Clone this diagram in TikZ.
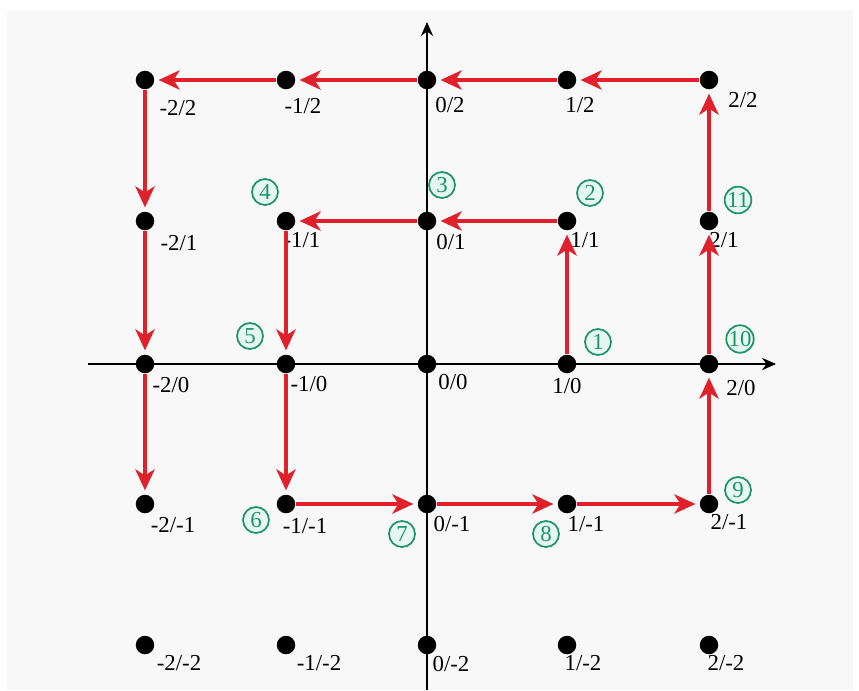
\documentclass[tikz,border=0pt]{standalone}
\usepackage{fontspec}
\setmainfont{Liberation Serif}
\usetikzlibrary{arrows.meta}
\definecolor{arrred}{HTML}{E0202A}
\definecolor{numgreen}{HTML}{1E9467}
\definecolor{numfill}{HTML}{E6F7F1}
\definecolor{bgcol}{HTML}{F8F8F8}
\tikzset{
  dot/.style={circle,fill=black,inner sep=0pt,minimum size=0.37cm},
  lab/.style={font=\fontsize{13}{15}\selectfont,inner sep=0pt,anchor=center},
  num/.style={circle,draw=numgreen,fill=numfill,text=numgreen,line width=1pt,
    inner sep=0pt,minimum size=0.52cm,font=\fontsize{13}{14}\selectfont},
  rarr/.style={draw=arrred,line width=2pt,-{Stealth[length=12pt,width=11pt,inset=3.5pt]},
    shorten >=0.08cm},
  axis/.style={draw=black,line width=0.8pt,-{Stealth[length=8pt,width=7pt]}}
}
\begin{document}
\begin{tikzpicture}[x=0.02cm,y=-0.02cm]
\useasboundingbox (0,0) rectangle (859,690);
\fill[bgcol] (7,10) rectangle (853,690);
% axes
\coordinate (xl) at (88,364);
\coordinate (xr) at (776,364);
\coordinate (yb) at (427,690);
\coordinate (yt) at (427,22);
\draw[axis] (xl) -- (xr);
\draw[axis] (yb) -- (yt);
% dots: a=x-2 ... e=x2 ; second index row y
\node[dot] (a2) at (145,80) {};
\node[dot] (b2) at (286,80) {};
\node[dot] (c2) at (427,80) {};
\node[dot] (d2) at (567,80) {};
\node[dot] (e2) at (709,80) {};
\node[dot] (a1) at (145,221) {};
\node[dot] (b1) at (286,221) {};
\node[dot] (c1) at (427,221) {};
\node[dot] (d1) at (567,221) {};
\node[dot] (e1) at (709,221) {};
\node[dot] (a0) at (145,364) {};
\node[dot] (b0) at (286,364) {};
\node[dot] (c0) at (427,364) {};
\node[dot] (d0) at (567,364) {};
\node[dot] (e0) at (709,364) {};
\node[dot] (am) at (145,504) {};
\node[dot] (bm) at (286,504) {};
\node[dot] (cm) at (427,504) {};
\node[dot] (dm) at (567,504) {};
\node[dot] (em) at (709,504) {};
\node[dot] (an) at (145,645) {};
\node[dot] (bn) at (286,645) {};
\node[dot] (cn) at (427,645) {};
\node[dot] (dn) at (567,645) {};
\node[dot] (en) at (709,645) {};
% labels
\node[lab] (la2) at (178,108) {-2/2};
\node[lab] (lb2) at (303,106) {-1/2};
\node[lab] (lc2) at (450,105) {0/2};
\node[lab] (ld2) at (580,105) {1/2};
\node[lab] (le2) at (743,100) {2/2};
\node[lab] (la1) at (179,243) {-2/1};
\node[lab] (lb1) at (302,240) {-1/1};
\node[lab] (lc1) at (451,242) {0/1};
\node[lab] (ld1) at (585,240) {1/1};
\node[lab] (le1) at (724,240) {2/1};
\node[lab] (la0) at (171,385) {-2/0};
\node[lab] (lb0) at (309,384) {-1/0};
\node[lab] (lc0) at (453,382) {0/0};
\node[lab] (ld0) at (567,386) {1/0};
\node[lab] (le0) at (741,388) {2/0};
\node[lab] (lam) at (173,525) {-2/-1};
\node[lab] (lbm) at (305,526) {-1/-1};
\node[lab] (lcm) at (452,524) {0/-1};
\node[lab] (ldm) at (586,524) {1/-1};
\node[lab] (lem) at (729,522) {2/-1};
\node[lab] (lan) at (179,663) {-2/-2};
\node[lab] (lbn) at (319,663) {-1/-2};
\node[lab] (lcn) at (451,664) {0/-2};
\node[lab] (ldn) at (583,663) {1/-2};
\node[lab] (len) at (726,663) {2/-2};
% circled numbers
\node[num] (n1) at (598,342) {1};
\node[num] (n2) at (590,193) {2};
\node[num] (n3) at (442,185) {3};
\node[num] (n4) at (265,192) {4};
\node[num] (n5) at (250,336) {5};
\node[num] (n6) at (256,520) {6};
\node[num] (n7) at (402,534) {7};
\node[num] (n8) at (546,534) {8};
\node[num] (n9) at (738,490) {9};
\node[num] (n10) at (740,339) {10};
\node[num] (n11) at (738,200) {11};
% red path
\draw[rarr] (d0) -- (d1);
\draw[rarr] (d1) -- (c1);
\draw[rarr] (c1) -- (b1);
\draw[rarr] (b1) -- (b0);
\draw[rarr] (b0) -- (bm);
\draw[rarr] (bm) -- (cm);
\draw[rarr] (cm) -- (dm);
\draw[rarr] (dm) -- (em);
\draw[rarr] (em) -- (e0);
\draw[rarr] (e0) -- (e1);
\draw[rarr] (e1) -- (e2);
\draw[rarr] (e2) -- (d2);
\draw[rarr] (d2) -- (c2);
\draw[rarr] (c2) -- (b2);
\draw[rarr] (b2) -- (a2);
\draw[rarr] (a2) -- (a1);
\draw[rarr] (a1) -- (a0);
\draw[rarr] (a0) -- (am);
\end{tikzpicture}
\end{document}
